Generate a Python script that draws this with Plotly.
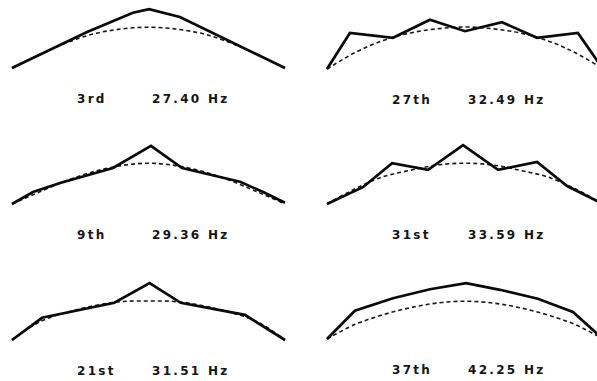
import plotly.graph_objects as go

# Mode labels
ordinals = ["3rd", "9th", "21st", "27th", "31st", "37th"]
frequencies = ["27.40 Hz", "29.36 Hz", "31.51 Hz", "32.49 Hz", "33.59 Hz", "42.25 Hz"]

# Deformed arch (solid): position along span (0..1) and rise
x_3rd = [0, 0.077, 0.275, 0.443, 0.502, 0.615, 0.714, 0.846, 1.0]
y_3rd = [0, 0.17, 0.60, 0.92, 0.98, 0.85, 0.63, 0.35, 0]

x_9th = [0, 0.077, 0.176, 0.37, 0.509, 0.623, 0.835, 0.92, 1.0]
y_9th = [0, 0.20, 0.35, 0.60, 0.97, 0.60, 0.37, 0.20, 0.02]

x_21st = [0, 0.11, 0.375, 0.504, 0.618, 0.853, 1.0]
y_21st = [0, 0.37, 0.62, 0.95, 0.62, 0.42, 0]

x_27th = [0, 0.083, 0.239, 0.373, 0.50, 0.634, 0.761, 0.909, 1.0]
y_27th = [0, 0.60, 0.52, 0.82, 0.63, 0.78, 0.52, 0.60, 0]

x_31st = [0, 0.13, 0.236, 0.366, 0.493, 0.62, 0.761, 0.87, 1.0]
y_31st = [0, 0.28, 0.68, 0.57, 0.98, 0.57, 0.70, 0.30, 0]

x_37th = [0, 0.101, 0.239, 0.373, 0.504, 0.627, 0.764, 0.891, 1.0]
y_37th = [0, 0.47, 0.68, 0.83, 0.93, 0.82, 0.67, 0.45, 0]

# Undeformed arch (dashed), sampled on a common grid
arc_x = [0, 0.1, 0.2, 0.3, 0.4, 0.5, 0.6, 0.7, 0.8, 0.9, 1.0]
arc_3rd = [0, 0.22, 0.42, 0.57, 0.65, 0.68, 0.65, 0.57, 0.42, 0.22, 0]
arc_9th = [0, 0.20, 0.39, 0.54, 0.64, 0.68, 0.64, 0.54, 0.39, 0.20, 0]
arc_21st = [0, 0.30, 0.46, 0.57, 0.64, 0.65, 0.64, 0.57, 0.46, 0.30, 0]
arc_27th = [0, 0.27, 0.47, 0.60, 0.67, 0.70, 0.67, 0.60, 0.47, 0.27, 0]
arc_31st = [0, 0.25, 0.45, 0.56, 0.65, 0.68, 0.65, 0.56, 0.45, 0.25, 0]
arc_37th = [0, 0.24, 0.40, 0.52, 0.60, 0.63, 0.60, 0.52, 0.40, 0.24, 0]

shapes = [(x_3rd, y_3rd, arc_3rd), (x_9th, y_9th, arc_9th), (x_21st, y_21st, arc_21st),
          (x_27th, y_27th, arc_27th), (x_31st, y_31st, arc_31st), (x_37th, y_37th, arc_37th)]

W, H = 597, 381
PX_PER_UNIT = 60.0
# column geometry: (panel band left, band right, span start, span width) in px
cols = [(0, 300, 12, 273), (300, 597, 327, 276)]
# row geometry: (band top, band bottom) in px, baselines per column
rows = [(0, 120), (120, 255), (255, 381)]
baselines = [[68, 204, 340], [69, 204, 339]]

fig = go.Figure()
layout = dict(width=W, height=H, margin=dict(l=0, r=0, t=0, b=0),
              paper_bgcolor="white", plot_bgcolor="white", showlegend=False)
annotations = []

for i, (sx, sy, ay) in enumerate(shapes):
    c, r = i // 3, i % 3
    L, R, x0, w = cols[c]
    top, bot = rows[r]
    b = baselines[c][r]
    n = i + 1
    xa = "xaxis" if n == 1 else f"xaxis{n}"
    ya = "yaxis" if n == 1 else f"yaxis{n}"
    xr = "x" if n == 1 else f"x{n}"
    yr = "y" if n == 1 else f"y{n}"
    layout[xa] = dict(domain=[L / W, R / W], range=[(L - x0) / w, (R - x0) / w],
                      visible=False, anchor=yr, fixedrange=True)
    layout[ya] = dict(domain=[1 - bot / H, 1 - top / H],
                      range=[-(bot - b) / PX_PER_UNIT, (b - top) / PX_PER_UNIT],
                      visible=False, anchor=xr, fixedrange=True)
    fig.add_trace(go.Scatter(x=arc_x, y=ay, mode="lines", xaxis=xr, yaxis=yr,
                             line=dict(color="#1a1a1a", width=1.6, dash="4px,3px", shape="spline")))
    fig.add_trace(go.Scatter(x=sx, y=sy, mode="lines", xaxis=xr, yaxis=yr,
                             line=dict(color="#0a0a0a", width=2.7)))
    lab_font = dict(family="DejaVu Sans", size=12, color="#151515", weight="bold")
    for txt, px in ((ordinals[i], 0.23), (frequencies[i], 0.505)):
        annotations.append(dict(
            text=f'<span style="letter-spacing:2.3px">{txt}</span>',
            x=px, y=-0.51, xref=xr, yref=yr, xanchor="left", yanchor="middle",
            showarrow=False, font=lab_font))

layout["annotations"] = annotations
fig.update_layout(**layout)
fig.write_html("out.html")
